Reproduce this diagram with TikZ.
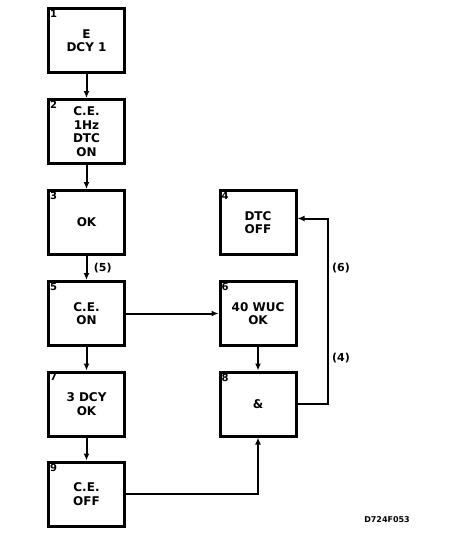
\documentclass[tikz,border=0pt]{standalone}
\usepackage{fontspec}
\setmainfont{DejaVu Sans}
\usetikzlibrary{arrows.meta}

\tikzset{
  blk/.style={draw, line width=3pt, minimum width=76pt, minimum height=64pt,
    align=center, inner sep=0pt, font=\bfseries\fontsize{12}{13.5}\selectfont},
  num/.style={anchor=north west, inner sep=2pt, font=\bfseries\fontsize{10}{10}\selectfont},
  flow/.style={line width=2pt, -{Latex[length=7pt,width=6pt]}},
  tag/.style={font=\bfseries\fontsize{11}{11}\selectfont},
}

\begin{document}
\begin{tikzpicture}[x=1pt,y=-1pt]
  \useasboundingbox (0,0) rectangle (448,536);

  % left column
  \node[blk] (b1) at (86.5,40.5) {E\\DCY 1};
  \node[blk] (b2) at (86.5,131.5) {C.E.\\1Hz\\DTC\\ON};
  \node[blk] (b3) at (86.5,222.5) {OK};
  \node[blk] (b5) at (86.5,313.5) {C.E.\\ON};
  \node[blk] (b7) at (86.5,404) {3 DCY\\OK};
  \node[blk] (b9) at (86.5,494) {C.E.\\OFF};

  % right column
  \node[blk] (b4) at (258,222.5) {DTC\\OFF};
  \node[blk] (b6) at (258,313.5) {40 WUC\\OK};
  \node[blk] (b8) at (258,404) {\&};

  % box numbers
  \node[num] at ([shift={(1,1)}]b1.north west) {1};
  \node[num] at ([shift={(1,1)}]b2.north west) {2};
  \node[num] at ([shift={(1,1)}]b3.north west) {3};
  \node[num] at ([shift={(1,1)}]b4.north west) {4};
  \node[num] at ([shift={(1,1)}]b5.north west) {5};
  \node[num] at ([shift={(1,1)}]b6.north west) {6};
  \node[num] at ([shift={(1,1)}]b7.north west) {7};
  \node[num] at ([shift={(1,1)}]b8.north west) {8};
  \node[num] at ([shift={(1,1)}]b9.north west) {9};

  % connectors
  \draw[flow] (b1) -- (b2);
  \draw[flow] (b2) -- (b3);
  \draw[flow] (b3) -- node[tag, right=3pt] {(5)} (b5);
  \draw[flow] (b5) -- (b7);
  \draw[flow] (b7) -- (b9);
  \draw[flow] (b5) -- (b6);
  \draw[flow] (b6) -- (b8);
  \draw[flow] (b9.east) -| (b8.south);
  \draw[flow] (b8.east) -- ++(30,0) |- ([yshift=4pt]b4.east);

  % loop labels
  \node[tag] (l6) at (341,268) {(6)};
  \node[tag] (l4) at (341,358) {(4)};

  % figure id
  \node[font=\bfseries\fontsize{8}{8}\selectfont] (fig) at (387,520) {D724F053};
\end{tikzpicture}
\end{document}
